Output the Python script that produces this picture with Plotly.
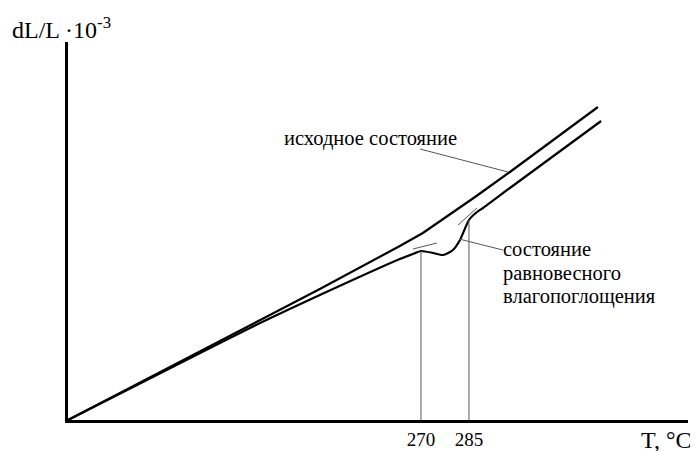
import plotly.graph_objects as go

# Temperature (°C) and relative elongation (arbitrary units, dL/L·10^-3)
T_initial = [159.7, 201.0, 219.7, 238.4, 263.4, 270.6, 286.9, 297.8, 325.3]
dL_initial = [0.00, 0.69, 1.00, 1.31, 1.74, 1.87, 2.23, 2.48, 3.13]

T_equil = [159.7, 201.0, 219.7, 238.4, 263.4, 267.5, 270.0, 273.8, 276.9, 280.0, 282.2, 285.0, 287.5, 289.4, 297.8, 326.3]
dL_equil = [0.00, 0.67, 0.97, 1.25, 1.61, 1.66, 1.69, 1.67, 1.65, 1.70, 1.80, 2.00, 2.08, 2.12, 2.32, 2.99]

# Thin construction lines (tangents at the transition points)
tan270_T = [267.5, 275.0]
tan270_y = [1.71, 1.77]
tan285_T = [281.6, 287.5]
tan285_y = [1.95, 2.12]

# Characteristic temperatures
T_marks = [270, 285]
T_marks_top = [1.69, 2.00]

# Leader lines for labels
lead1_T = [269.7, 297.2]
lead1_y = [2.71, 2.48]
lead2_T = [281.9, 295.6]
lead2_y = [1.81, 1.70]

tick_vals = [270, 285]
tick_text = ["270", "285"]

label_initial = "исходное состояние"
label_equil_lines = ["состояние", "равновесного", "влагопоглощения"]
label_equil_y = [1.71, 1.47, 1.24]
y_title = "dL/L ·10<sup>-3</sup>"
x_title = "T, °C"

serif = "Liberation Serif, Times New Roman, DejaVu Serif, serif"
thin = dict(color="#555555", width=1)
lab_font = dict(family=serif, size=20.5, color="black")

fig = go.Figure()
fig.add_trace(go.Scatter(x=T_initial, y=dL_initial, mode="lines",
                         line=dict(color="black", width=2.2), hoverinfo="skip"))
fig.add_trace(go.Scatter(x=T_equil, y=dL_equil, mode="lines",
                         line=dict(color="black", width=2.2, shape="spline", smoothing=0.6),
                         hoverinfo="skip"))
for xs, ys in [(tan270_T, tan270_y), (tan285_T, tan285_y), (lead1_T, lead1_y), (lead2_T, lead2_y)]:
    fig.add_trace(go.Scatter(x=xs, y=ys, mode="lines", line=thin, hoverinfo="skip"))
for t, top in zip(T_marks, T_marks_top):
    fig.add_trace(go.Scatter(x=[t, t], y=[0, top], mode="lines", line=thin, hoverinfo="skip"))

fig.add_annotation(x=254.1, y=2.82, xref="x", yref="y", text=label_initial, showarrow=False,
                   font=lab_font)
for txt, yy in zip(label_equil_lines, label_equil_y):
    fig.add_annotation(x=295.0, y=yy, xref="x", yref="y", text=txt, showarrow=False,
                       xanchor="left", yanchor="middle", align="left", font=lab_font)
fig.add_annotation(x=-0.0935, y=1.038, xref="paper", yref="paper", text=y_title, showarrow=False,
                   xanchor="left", yanchor="middle", font=dict(family=serif, size=24, color="black"))
fig.add_annotation(x=0.921, y=-0.053, xref="paper", yref="paper", text=x_title, showarrow=False,
                   xanchor="left", yanchor="middle", font=dict(family=serif, size=24, color="black"))

fig.update_layout(
    width=690, height=443,
    margin=dict(l=60, r=10, t=34, b=31, autoexpand=False),
    paper_bgcolor="white", plot_bgcolor="white",
    showlegend=False,
)
fig.update_xaxes(range=[159.7, 353.45], showgrid=False, zeroline=False, automargin=False,
                 showline=True, linecolor="black", linewidth=2.5,
                 tickvals=tick_vals, ticktext=tick_text, ticks="",
                 tickfont=dict(family=serif, size=19, color="black"))
fig.update_yaxes(range=[0, 3.78], showgrid=False, zeroline=False, automargin=False,
                 showline=True, linecolor="black", linewidth=2.5,
                 showticklabels=False, ticks="")

fig.write_html("out.html")
